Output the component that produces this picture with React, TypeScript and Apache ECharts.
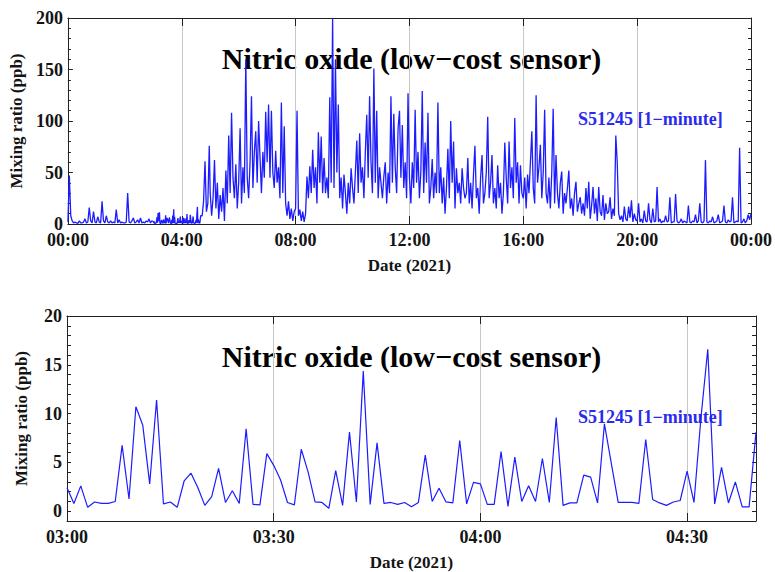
import React, { useEffect, useRef } from 'react';
import * as echarts from 'echarts';

// ---------- text ----------
const titleText = 'Nitric oxide (low\u2212cost sensor)';
const sensorText = 'S51245 [1\u2212minute]';
const yAxisName = 'Mixing ratio (ppb)';
const xAxisName = 'Date (2021)';
const topTickLabels = ['00:00', '04:00', '08:00', '12:00', '16:00', '20:00', '00:00'];
const bottomTickLabels = ['03:00', '03:30', '04:00', '04:30'];

// ---------- 1-minute data 03:00 - 04:40 (bottom panel, also used in top panel) ----------
const zoomStartMinute = 180;
const zoomValues = [
  2.4, 0.8, 2.6, 0.4, 0.95, 0.8, 0.8, 1.0, 6.75, 1.25,
  10.7, 8.8, 2.8, 11.4, 0.75, 0.95, 0.4, 3.1, 3.9, 2.4,
  0.6, 1.5, 4.4, 0.9, 2.1, 0.8, 8.45, 0.7, 0.65, 5.9,
  4.7, 3.2, 0.9, 0.65, 6.35, 4.0, 0.95, 0.9, 0.3, 4.15,
  0.6, 8.1, 0.95, 14.35, 0.7, 7.0, 0.8, 0.9, 0.7, 0.9,
  0.45, 0.9, 5.75, 1.0, 2.35, 0.95, 0.85, 7.25, 0.75, 2.95,
  2.8, 0.7, 0.7, 6.1, 0.5, 5.55, 1.0, 2.6, 1.0, 5.4,
  0.9, 9.6, 0.6, 0.85, 0.85, 3.7, 3.5, 0.85, 8.95, 4.9,
  0.9, 0.9, 0.9, 0.8, 7.35, 1.2, 0.85, 0.6, 0.95, 1.1,
  4.1, 0.9, 9.5, 16.6, 0.75, 4.5, 0.85, 3.0, 0.45, 0.45,
  8.1,
];

// ---------- daily series, read every 3 minutes (values at hh:00, hh:03, ... hh:57) ----------
const hour00 = [2, 47, 8, 3, 1, 2, 1, 0.5, 3, 1, 1, 2, 5, 1, 2, 16, 3, 1, 12, 2];
const hour01 = [1, 7, 2, 1, 22, 3, 1, 8, 2, 1, 3, 1, 2, 1, 14, 1, 4, 1, 2, 1];
const hour02 = [1, 2, 30, 2, 1, 3, 6, 1, 2, 4, 1, 6, 1, 2, 1, 3, 2, 5, 1, 3];
// 04:43 .. 04:58
const hour04Tail = [8, 22, 61, 12, 20, 76];
const hour04TailStart = 283;
const hour05 = [30, 8, 25, 62, 15, 40, 5, 28, 12, 35, 3, 52, 20, 86, 30, 108, 45, 25, 58, 15];
const hour06 = [40, 93, 20, 55, 30, 160, 45, 25, 60, 124, 35, 70, 90, 40, 100, 65, 30, 70, 45, 109];
const hour07 = [60, 116, 45, 110, 50, 35, 71, 40, 55, 25, 118, 30, 95, 20, 8, 22, 5, 15, 3, 12];
const hour08 = [15, 110, 8, 14, 3, 12, 2, 10, 46, 25, 56, 30, 72, 35, 55, 20, 89, 40, 85, 30];
const hour09 = [64, 30, 45, 25, 123, 40, 200, 35, 160, 50, 116, 25, 45, 15, 48, 30, 10, 40, 20, 54];
const hour10 = [35, 20, 50, 81, 30, 88, 40, 55, 25, 70, 106, 45, 124, 60, 30, 151, 40, 110, 25, 55];
const hour11 = [40, 25, 46, 60, 20, 50, 30, 124, 40, 107, 55, 30, 93, 110, 45, 96, 35, 60, 25, 127];
const hour12 = [45, 20, 60, 35, 111, 40, 70, 25, 50, 129, 30, 79, 40, 108, 20, 35, 63, 25, 50, 30];
const hour13 = [118, 30, 55, 20, 45, 10, 35, 73, 25, 100, 40, 80, 15, 54, 30, 40, 20, 54, 35, 25];
const hour14 = [30, 64, 20, 40, 15, 48, 76, 25, 35, 10, 45, 67, 20, 30, 50, 104, 25, 40, 67, 20];
const hour15 = [35, 15, 57, 25, 40, 10, 30, 79, 45, 20, 80, 35, 55, 25, 103, 40, 60, 20, 57, 30];
const hour16 = [25, 45, 15, 48, 30, 60, 90, 35, 20, 125, 40, 55, 77, 25, 50, 111, 30, 20, 45, 15];
const hour17 = [50, 112, 20, 67, 30, 15, 40, 51, 10, 30, 20, 35, 52, 15, 25, 8, 30, 41, 12, 20];
const hour18 = [26, 10, 20, 8, 35, 15, 41, 5, 18, 36, 10, 25, 3, 36, 12, 8, 28, 4, 20, 10];
const hour19 = [12, 26, 5, 15, 8, 86, 60, 10, 4, 8, 2, 17, 5, 3, 17, 6, 23, 2, 10, 4];
const hour20 = [3, 20, 2, 5, 1, 13, 3, 2, 20, 4, 1, 15, 2, 3, 36, 2, 5, 1, 3, 2];
const hour21 = [8, 2, 3, 26, 1, 2, 2, 29, 3, 1, 2, 5, 1, 3, 2, 1, 18, 2, 1, 3];
const hour22 = [2, 9, 1, 3, 20, 2, 1, 3, 62, 2, 1, 3, 2, 7, 1, 2, 3, 9, 1, 2];
const hour23 = [3, 18, 2, 1, 4, 2, 3, 26, 1, 2, 3, 2, 74, 1, 2, 5, 1, 3, 9, 4];
const midnightValue = 10;
const stepMinutes = 3;

function buildTopData(): [number, number][] {
  const out: [number, number][] = [];
  [hour00, hour01, hour02].forEach((arr, h) =>
    arr.forEach((v, i) => out.push([h * 60 + i * stepMinutes, v]))
  );
  zoomValues.forEach((v, i) => out.push([zoomStartMinute + i, v]));
  hour04Tail.forEach((v, i) => out.push([hour04TailStart + i * stepMinutes, v]));
  const late = [hour05, hour06, hour07, hour08, hour09, hour10, hour11, hour12, hour13, hour14,
    hour15, hour16, hour17, hour18, hour19, hour20, hour21, hour22, hour23];
  late.forEach((arr, k) =>
    arr.forEach((v, i) => out.push([(k + 5) * 60 + i * stepMinutes, v]))
  );
  out.push([1440, midnightValue]);
  return out;
}

const FONT = '"Liberation Serif", "Times New Roman", serif';
const TXT = '#141414';
const LINE = '#1c1cff';

export default function App() {
  const ref = useRef<HTMLDivElement>(null);
  useEffect(() => {
    if (!ref.current) return;
    const chart = echarts.init(ref.current, undefined, { renderer: 'svg' });
    const topData = buildTopData();
    const bottomData = zoomValues.map((v, i) => [zoomStartMinute + i, v]);

    const labelStyle = { fontFamily: FONT, fontWeight: 'bold' as const, fontSize: 18, lineHeight: 14, color: TXT };
    const nameStyle = { fontFamily: FONT, fontWeight: 'bold' as const, fontSize: 17, color: TXT };
    const frame = { show: true, onZero: false, lineStyle: { color: '#222', width: 1 } };

    const mkX = (gridIndex: number, min: number, max: number, interval: number, fmt: (v: number) => string) => [
      {
        type: 'value', gridIndex, min, max, interval, position: 'bottom',
        axisLine: frame,
        axisTick: { show: true, inside: true, length: 8, lineStyle: { color: '#222' } },
        axisLabel: { ...labelStyle, margin: 9, formatter: fmt, showMaxLabel: true, showMinLabel: true },
        splitLine: { show: true, lineStyle: { color: '#c8c8c8', width: 1 } },
        name: xAxisName, nameLocation: 'middle', nameGap: 33, nameTextStyle: nameStyle,
      },
      {
        type: 'value', gridIndex, min, max, interval, position: 'top',
        axisLine: frame,
        axisTick: { show: true, inside: true, length: 8, lineStyle: { color: '#222' } },
        axisLabel: { show: false },
        splitLine: { show: false },
      },
    ];

    const topFmt = (v: number) => {
      const k = Math.round(v / 240 * 1e6) / 1e6;
      return Number.isInteger(k) ? topTickLabels[k] ?? '' : '';
    };
    const bottomFmt = (v: number) => {
      const k = Math.round((v - 180) / 30 * 1e6) / 1e6;
      return Number.isInteger(k) ? bottomTickLabels[k] ?? '' : '';
    };
    const yFmt = (v: number) => {
      const r = Math.round(v);
      return r >= 0 && r % 5 === 0 ? String(r) : '';
    };

    const gridTop = 18;
    const gridTop2 = 316;
    const tick = { color: '#222' };

    chart.setOption({
      animation: false,
      backgroundColor: '#fff',
      grid: [
        { left: 67, top: gridTop, width: 689, height: 206 },
        { left: 67, top: gridTop2, width: 689, height: 207 },
      ],
      xAxis: [
        ...mkX(0, 0, 1440, 240, topFmt),
        ...mkX(1, 180, 280, 30, bottomFmt),
      ],
      yAxis: [
        {
          type: 'value', gridIndex: 0, min: 0, max: 200, interval: 50, position: 'left',
          axisLine: frame,
          axisTick: { show: true, inside: true, length: 5, lineStyle: tick },
          minorTick: { show: true, splitNumber: 5, length: 3, lineStyle: tick },
          axisLabel: { ...labelStyle, margin: 5 },
          splitLine: { show: false },
          name: yAxisName, nameLocation: 'middle', nameGap: 37, nameRotate: 90, nameTextStyle: nameStyle,
        },
        {
          type: 'value', gridIndex: 0, min: 0, max: 200, interval: 50, position: 'right',
          axisLine: frame,
          axisTick: { show: true, inside: true, length: 5, lineStyle: tick },
          minorTick: { show: true, splitNumber: 5, length: 3, lineStyle: tick },
          axisLabel: { show: false },
          splitLine: { show: false },
        },
        {
          type: 'value', gridIndex: 1, min: -1, max: 20, interval: 1, position: 'left',
          axisLine: frame,
          axisTick: { show: true, inside: true, length: 4, lineStyle: tick },
          axisLabel: { ...labelStyle, margin: 5, formatter: yFmt },
          splitLine: { show: false },
          name: yAxisName, nameLocation: 'middle', nameGap: 37, nameRotate: 90, nameTextStyle: nameStyle,
        },
        {
          type: 'value', gridIndex: 1, min: -1, max: 20, interval: 1, position: 'right',
          axisLine: frame,
          axisTick: { show: true, inside: true, length: 4, lineStyle: tick },
          axisLabel: { show: false },
          splitLine: { show: false },
        },
      ],
      series: [
        {
          type: 'line', xAxisIndex: 0, yAxisIndex: 0, data: topData,
          symbol: 'none', lineStyle: { color: LINE, width: 1.3 }, itemStyle: { color: LINE },
        },
        {
          type: 'line', xAxisIndex: 2, yAxisIndex: 2, data: bottomData,
          symbol: 'none', lineStyle: { color: LINE, width: 1.2 }, itemStyle: { color: LINE },
        },
      ],
      graphic: [
        { type: 'text', x: 411.5, y: gridTop + 40, style: { text: titleText, fontFamily: FONT, fontWeight: 'bold', fontSize: 30, fill: '#000', align: 'center', verticalAlign: 'middle' } },
        { type: 'text', x: 578, y: gridTop + 101, style: { text: sensorText, fontFamily: FONT, fontWeight: 'bold', fontSize: 18, fill: '#2a2aee', align: 'left', verticalAlign: 'middle' } },
        { type: 'text', x: 411.5, y: gridTop2 + 40, style: { text: titleText, fontFamily: FONT, fontWeight: 'bold', fontSize: 30, fill: '#000', align: 'center', verticalAlign: 'middle' } },
        { type: 'text', x: 578, y: gridTop2 + 101, style: { text: sensorText, fontFamily: FONT, fontWeight: 'bold', fontSize: 18, fill: '#2a2aee', align: 'left', verticalAlign: 'middle' } },
      ],
    });
    return () => chart.dispose();
  }, []);
  return <div ref={ref} style={{ position: 'absolute', left: 0, top: 0, width: 775, height: 572 }} />;
}
